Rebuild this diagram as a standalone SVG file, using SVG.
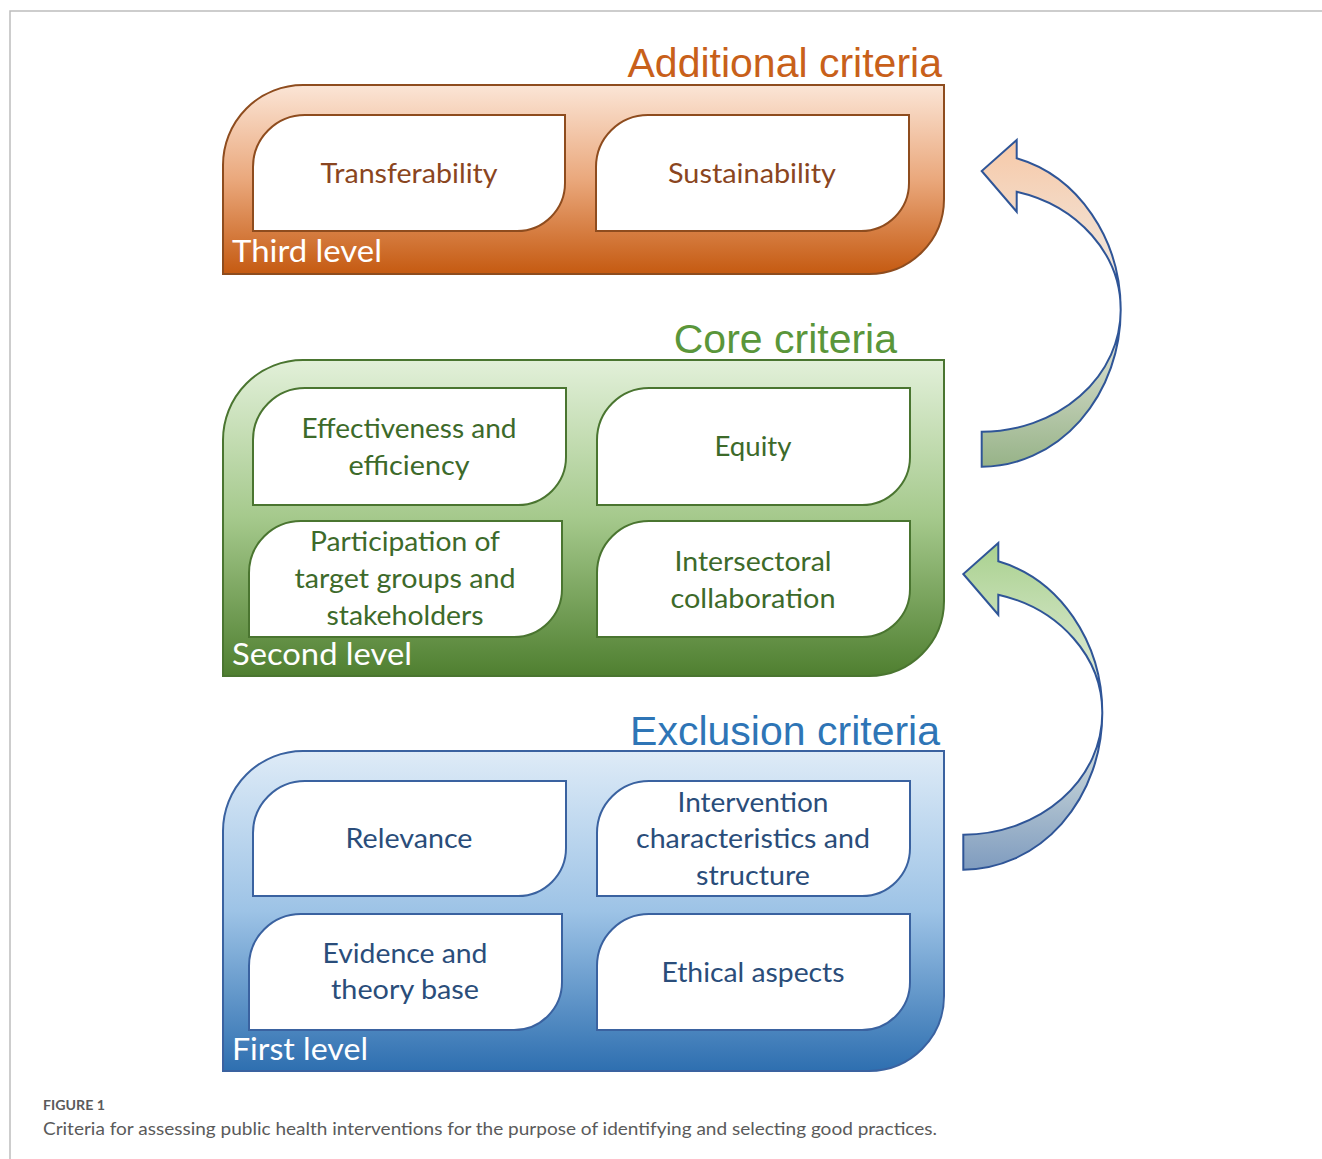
<svg xmlns="http://www.w3.org/2000/svg" xmlns:xlink="http://www.w3.org/1999/xlink" width="1322" height="1159" viewBox="0 0 1322 1159">
  <style>
    .frame { stroke: #bdbdbd; stroke-width: 1.5; fill: none; }
    .title { font-family: "Liberation Sans", Arial, sans-serif; font-size: 41px; text-anchor: end; }
    .lvl { font-family: Lato, "Noto Sans", sans-serif; font-size: 31px; fill: #ffffff; }
    .item { font-family: Lato, "Noto Sans", sans-serif; font-size: 26px; text-anchor: middle; }
    .cell { fill: #ffffff; stroke-width: 2; }
    .outer { stroke-width: 2; }
    .t3 .cell, .t3 .outer { stroke: #8e4c1e; }
    .t2 .cell, .t2 .outer { stroke: #4a7530; }
    .t1 .cell, .t1 .outer { stroke: #3a62a0; }
    .t3 .item { fill: #8a4520; }
    .t2 .item { fill: #3d6a2a; }
    .t1 .item { fill: #2a4d7a; }
    .arrow { stroke: #2f5597; stroke-width: 2; stroke-linejoin: miter; }
    .cap { font-family: Lato, "Open Sans", sans-serif; fill: #5a5a5a; }
  </style>
  <defs>
    <linearGradient id="gOrange" x1="0" y1="0" x2="0" y2="1">
      <stop offset="0" stop-color="#fbe5d6"/>
      <stop offset="0.5" stop-color="#eaa87c"/>
      <stop offset="1" stop-color="#c55a11"/>
    </linearGradient>
    <linearGradient id="gGreen" x1="0" y1="0" x2="0" y2="1">
      <stop offset="0" stop-color="#e2f0d9"/>
      <stop offset="0.5" stop-color="#a5c98c"/>
      <stop offset="1" stop-color="#4f7f30"/>
    </linearGradient>
    <linearGradient id="gBlue" x1="0" y1="0" x2="0" y2="1">
      <stop offset="0" stop-color="#deebf7"/>
      <stop offset="0.5" stop-color="#9dc3e6"/>
      <stop offset="1" stop-color="#2e6fb0"/>
    </linearGradient>
    <linearGradient id="gArrowUp" x1="0" y1="0" x2="0" y2="1">
      <stop offset="0" stop-color="#f7c9a8"/>
      <stop offset="0.5" stop-color="#efede8"/>
      <stop offset="1" stop-color="#97b388"/>
    </linearGradient>
    <linearGradient id="gArrowLow" x1="0" y1="0" x2="0" y2="1">
      <stop offset="0" stop-color="#a9d18e"/>
      <stop offset="0.5" stop-color="#e9efe4"/>
      <stop offset="1" stop-color="#7f9cbf"/>
    </linearGradient>
    <!-- curved left arrow: tail at lower left, bulge to the right, head at upper left -->
    <path id="curvedArrow" d="M 981.7 466.7 A 139 156.7 0 0 0 1120.7 310 A 139 156.7 0 0 0 1016.7 158.3 L 1016.7 140 L 981.7 171 L 1016.7 211.7 L 1016.7 191.7 A 139 121.7 0 0 1 1120.7 310 A 139 121.7 0 0 1 981.7 431.7 Z"/>
  </defs>

  <rect width="1322" height="1159" fill="#ffffff"/>

  <!-- page frame -->
  <path class="frame" d="M 10 1159 L 10 11 L 1322 11"/>

  <!-- third level -->
  <g id="level-third" class="t3">
    <text class="title" x="942" y="77" fill="#c8601a">Additional criteria</text>
    <path class="outer" fill="url(#gOrange)" d="M 223 274 L 223 165 A 80 80 0 0 1 303 85 L 944 85 L 944 199 A 75 75 0 0 1 869 274 Z"/>
    <g id="node-transferability">
      <path class="cell" d="M 253 231 L 253 167 A 52 52 0 0 1 305 115 L 565 115 L 565 183 A 48 48 0 0 1 517 231 Z"/>
      <text class="item" x="409" y="183" textLength="177" lengthAdjust="spacingAndGlyphs">Transferability</text>
    </g>
    <g id="node-sustainability">
      <path class="cell" d="M 596 231 L 596 167 A 52 52 0 0 1 648 115 L 909 115 L 909 183 A 48 48 0 0 1 861 231 Z"/>
      <text class="item" x="752" y="183" textLength="168" lengthAdjust="spacingAndGlyphs">Sustainability</text>
    </g>
    <text class="lvl" x="232" y="262" textLength="150" lengthAdjust="spacingAndGlyphs">Third level</text>
  </g>

  <!-- second level -->
  <g id="level-second" class="t2">
    <text class="title" x="897" y="353" fill="#5a963a">Core criteria</text>
    <path class="outer" fill="url(#gGreen)" d="M 223 676 L 223 440 A 80 80 0 0 1 303 360 L 944 360 L 944 601 A 75 75 0 0 1 869 676 Z"/>
    <g id="node-effectiveness">
      <path class="cell" d="M 253 505 L 253 440 A 52 52 0 0 1 305 388 L 566 388 L 566 457 A 48 48 0 0 1 518 505 Z"/>
      <text class="item" x="409" y="438" textLength="215" lengthAdjust="spacingAndGlyphs">Effectiveness and</text>
      <text class="item" x="409" y="475" textLength="121" lengthAdjust="spacingAndGlyphs">efficiency</text>
    </g>
    <g id="node-equity">
      <path class="cell" d="M 597 505 L 597 440 A 52 52 0 0 1 649 388 L 910 388 L 910 457 A 48 48 0 0 1 862 505 Z"/>
      <text class="item" x="753" y="456" textLength="77" lengthAdjust="spacingAndGlyphs">Equity</text>
    </g>
    <g id="node-participation">
      <path class="cell" d="M 249 637 L 249 573 A 52 52 0 0 1 301 521 L 562 521 L 562 589 A 48 48 0 0 1 514 637 Z"/>
      <text class="item" x="405" y="551" textLength="190" lengthAdjust="spacingAndGlyphs">Participation of</text>
      <text class="item" x="405" y="588" textLength="221" lengthAdjust="spacingAndGlyphs">target groups and</text>
      <text class="item" x="405" y="625" textLength="157" lengthAdjust="spacingAndGlyphs">stakeholders</text>
    </g>
    <g id="node-intersectoral">
      <path class="cell" d="M 597 637 L 597 573 A 52 52 0 0 1 649 521 L 910 521 L 910 589 A 48 48 0 0 1 862 637 Z"/>
      <text class="item" x="753" y="571" textLength="157" lengthAdjust="spacingAndGlyphs">Intersectoral</text>
      <text class="item" x="753" y="608" textLength="165" lengthAdjust="spacingAndGlyphs">collaboration</text>
    </g>
    <text class="lvl" x="232" y="665" textLength="180" lengthAdjust="spacingAndGlyphs">Second level</text>
  </g>

  <!-- first level -->
  <g id="level-first" class="t1">
    <text class="title" x="940" y="745" fill="#2e75b6">Exclusion criteria</text>
    <path class="outer" fill="url(#gBlue)" d="M 223 1071 L 223 831 A 80 80 0 0 1 303 751 L 944 751 L 944 996 A 75 75 0 0 1 869 1071 Z"/>
    <g id="node-relevance">
      <path class="cell" d="M 253 896 L 253 833 A 52 52 0 0 1 305 781 L 566 781 L 566 848 A 48 48 0 0 1 518 896 Z"/>
      <text class="item" x="409" y="848" textLength="127" lengthAdjust="spacingAndGlyphs">Relevance</text>
    </g>
    <g id="node-intervention">
      <path class="cell" d="M 597 896 L 597 833 A 52 52 0 0 1 649 781 L 910 781 L 910 848 A 48 48 0 0 1 862 896 Z"/>
      <text class="item" x="753" y="812" textLength="151" lengthAdjust="spacingAndGlyphs">Intervention</text>
      <text class="item" x="753" y="848" textLength="234" lengthAdjust="spacingAndGlyphs">characteristics and</text>
      <text class="item" x="753" y="885" textLength="114" lengthAdjust="spacingAndGlyphs">structure</text>
    </g>
    <g id="node-evidence">
      <path class="cell" d="M 249 1030 L 249 966 A 52 52 0 0 1 301 914 L 562 914 L 562 982 A 48 48 0 0 1 514 1030 Z"/>
      <text class="item" x="405" y="963" textLength="165" lengthAdjust="spacingAndGlyphs">Evidence and</text>
      <text class="item" x="405" y="999" textLength="148" lengthAdjust="spacingAndGlyphs">theory base</text>
    </g>
    <g id="node-ethical">
      <path class="cell" d="M 597 1030 L 597 966 A 52 52 0 0 1 649 914 L 910 914 L 910 982 A 48 48 0 0 1 862 1030 Z"/>
      <text class="item" x="753" y="982" textLength="183" lengthAdjust="spacingAndGlyphs">Ethical aspects</text>
    </g>
    <text class="lvl" x="232" y="1060" textLength="136" lengthAdjust="spacingAndGlyphs">First level</text>
  </g>

  <!-- connectors: curved arrows stepping up one level -->
  <g id="connectors">
    <use xlink:href="#curvedArrow" class="arrow" fill="url(#gArrowUp)"/>
    <use xlink:href="#curvedArrow" class="arrow" fill="url(#gArrowLow)" transform="translate(-18.4 403)"/>
  </g>

  <!-- caption -->
  <g id="caption">
    <text class="cap" x="43" y="1110" font-size="13" font-weight="bold" textLength="62" lengthAdjust="spacingAndGlyphs" fill="#6a6a6a">FIGURE 1</text>
    <text class="cap" x="43" y="1135" font-size="17" textLength="894" lengthAdjust="spacingAndGlyphs">Criteria for assessing public health interventions for the purpose of identifying and selecting good practices.</text>
  </g>
</svg>
